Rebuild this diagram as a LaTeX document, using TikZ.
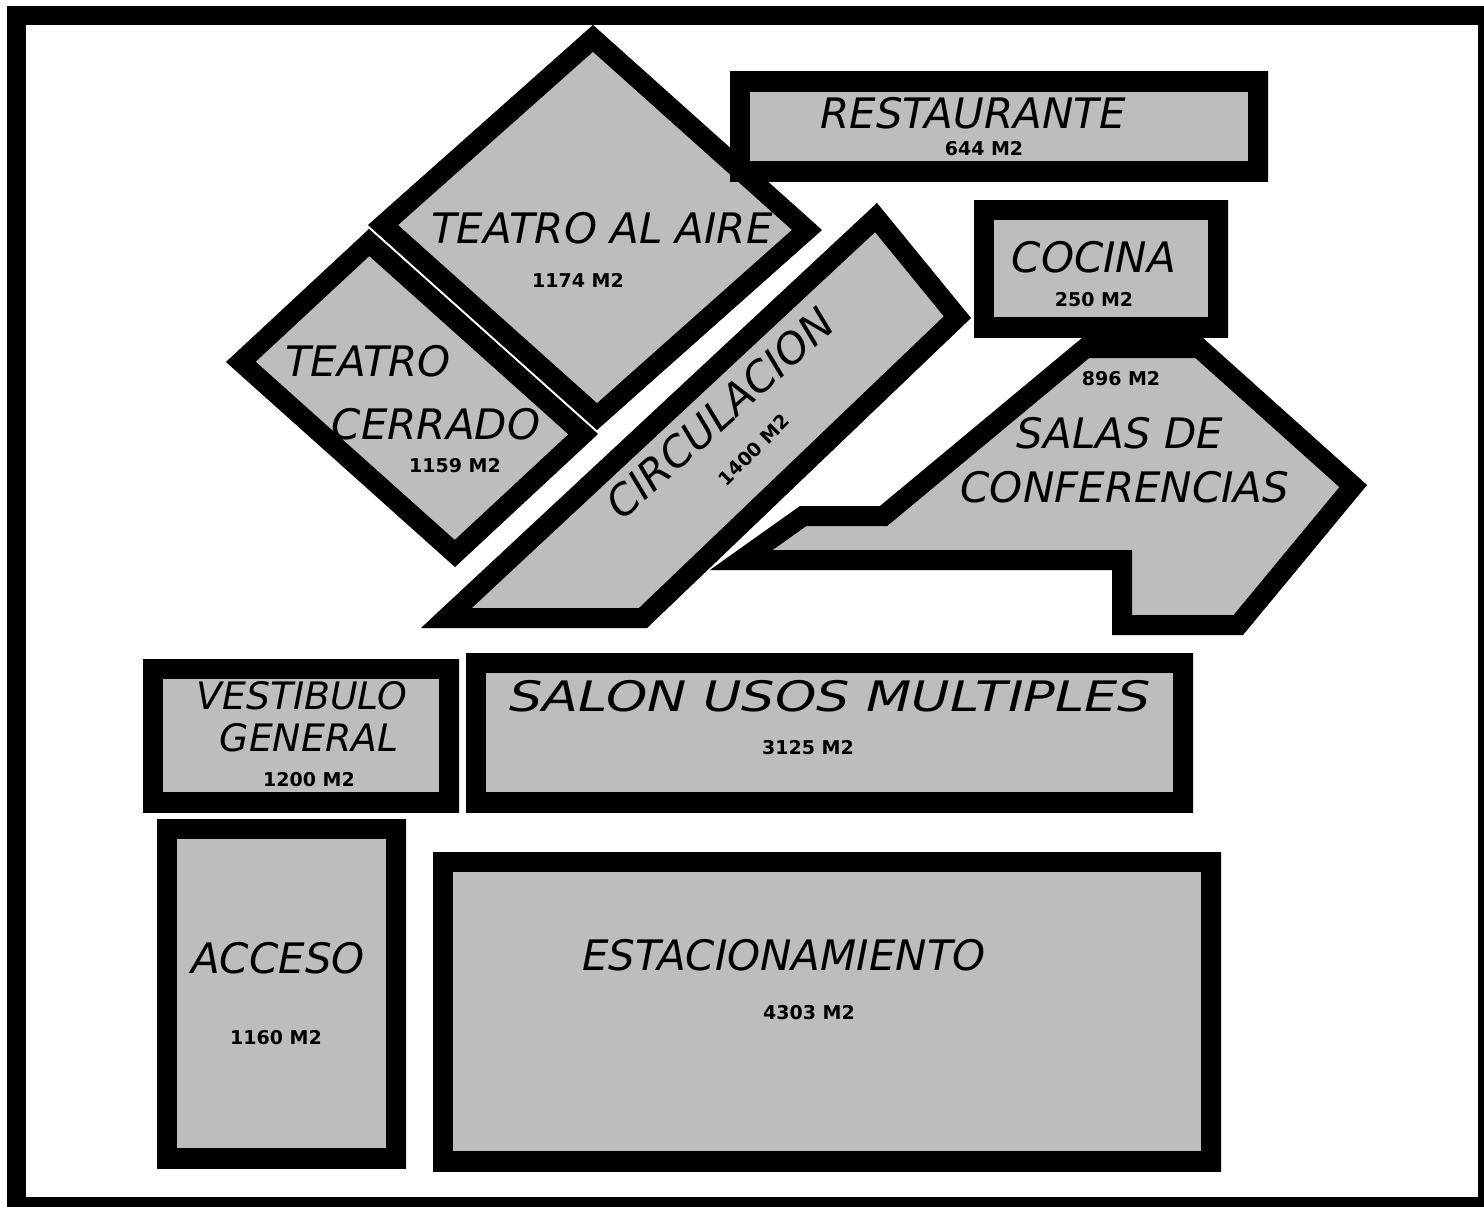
\documentclass[tikz,border=0pt]{standalone}
\usepackage{fontspec}
\setmainfont{DejaVu Sans}
\newcommand\zona[1]{\begin{scope}\clip #1;\fill[black!26] #1;\draw[line width=40pt] #1;\end{scope}}

\begin{document}
\begin{tikzpicture}[x=1pt,y=-1pt,nombre/.style={font=\fontsize{42}{46}\selectfont\itshape,inner sep=0pt},area/.style={font=\fontsize{19}{22}\selectfont\bfseries,inner sep=0pt}]
  \useasboundingbox (0,0) rectangle (1484,1207);
  \clip (0,0) rectangle (1484,1207);
  \draw[line width=19pt] (16.5,16) rectangle (1487.5,1206.5);
  \zona{(593,25) -- (822,230) -- (597,430) -- (368,225) -- cycle}
  \zona{(369,229) -- (598,434) -- (455,567) -- (226,362) -- cycle}
  \zona{(877,203) -- (971,318) -- (647,628) -- (421,628) -- cycle}
  \zona{(710,570) -- (800,506) -- (880,506) -- (1082,338) -- (1203,338) -- (1367,485) -- (1243,635) -- (1112,635) -- (1112,570) -- cycle}
  \zona{(730,72) rectangle (1268,181)}
  \zona{(974,200) rectangle (1228,337)}
  \zona{(143,659) rectangle (459,812)}
  \zona{(466,653) rectangle (1193,812)}
  \zona{(157,819) rectangle (406,1168)}
  \zona{(433,852) rectangle (1221,1171)}
  \node[nombre] (restaurante) at (973,113) {RESTAURANTE};
  \node[area] (m-restaurante) at (984,149) {644 M2};
  \node[nombre] (cocina) at (1094,257) {COCINA};
  \node[area] (m-cocina) at (1094,300) {250 M2};
  \node[nombre] (aire) at (602,228) {TEATRO AL AIRE};
  \node[area] (m-aire) at (578,280) {1174 M2};
  \node[nombre] (cerrado-a) at (368,361) {TEATRO};
  \node[nombre] (cerrado-b) at (436,424) {CERRADO};
  \node[area] (m-cerrado) at (455,466) {1159 M2};
  \node[nombre,rotate=42] (circulacion) at (720,413) {CIRCULACION};
  \node[area,rotate=45] (m-circulacion) at (754,450) {1400 M2};
  \node[area] (m-salas) at (1121,379) {896 M2};
  \node[nombre] (salas-a) at (1120,433) {SALAS DE};
  \node[nombre] (salas-b) at (1125,487) {CONFERENCIAS};
  \node[nombre,scale=.9] (vestibulo-a) at (302,696) {VESTIBULO};
  \node[nombre,scale=.9] (vestibulo-b) at (309,738) {GENERAL};
  \node[area] (m-vestibulo) at (309,780) {1200 M2};
  \node[nombre,xscale=1.25] (salon) at (830,696) {SALON USOS MULTIPLES};
  \node[area] (m-salon) at (808,748) {3125 M2};
  \node[nombre] (acceso) at (278,958) {ACCESO};
  \node[area] (m-acceso) at (276,1038) {1160 M2};
  \node[nombre] (estacionamiento) at (784,955) {ESTACIONAMIENTO};
  \node[area] (m-estacionamiento) at (809,1013) {4303 M2};
\end{tikzpicture}
\end{document}
